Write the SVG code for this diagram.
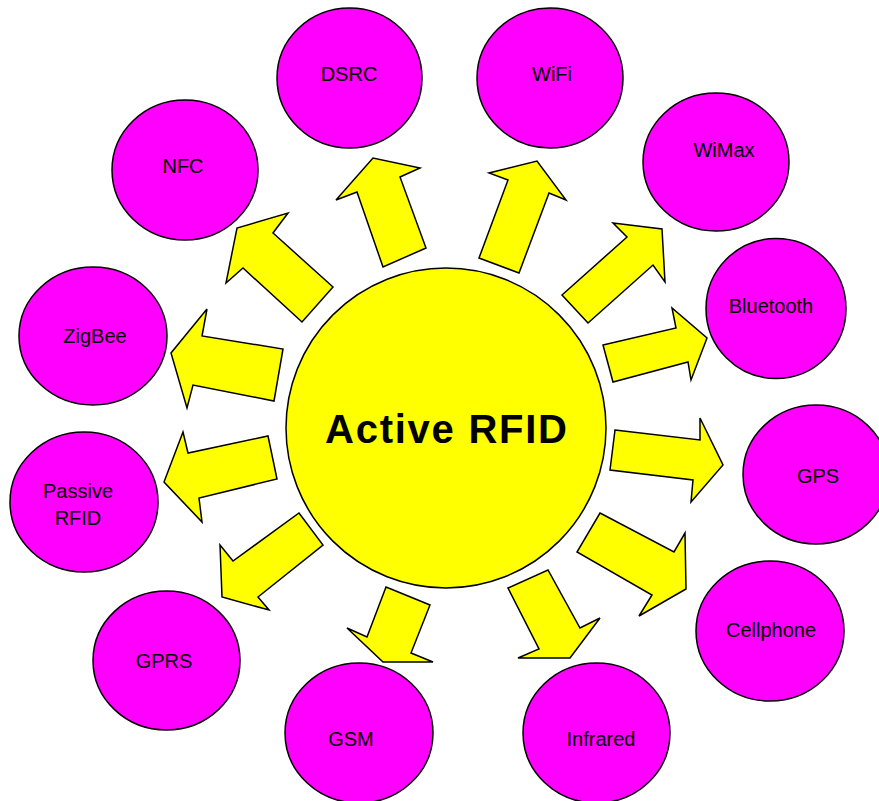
<svg xmlns="http://www.w3.org/2000/svg" width="879" height="801" viewBox="0 0 879 801">
<style>
.arrow{fill:#ffff00;stroke:#000;stroke-width:1.5;stroke-linejoin:miter}
.node{fill:#ff00ff;stroke:#000;stroke-width:1.5}
.lbl{font-family:"Liberation Sans",Arial,sans-serif;font-size:20px;fill:#000;text-anchor:middle}
.center{fill:#ffff00;stroke:#000;stroke-width:1.5}
.title{font-family:"Liberation Sans",Arial,sans-serif;font-size:40px;font-weight:bold;fill:#000;text-anchor:middle}
</style>
<rect width="879" height="801" fill="#fff"/>
<g id="connectors">
<polygon class="arrow" points="383,267 357,192 336,200 373,158 420,168 400,177 426,248"/>
<polygon class="arrow" points="479,258 508,180 489,173 537,161 566,200 549,193 519,273"/>
<polygon class="arrow" points="562,295 627,237 613,223 662,229 665,282 653,265 588,323"/>
<polygon class="arrow" points="603,345 676,328 672,308 707,338 691,380 688,362 613,382"/>
<polygon class="arrow" points="615,430 700,440 700,418 723,465 691,502 693,480 610,470"/>
<polygon class="arrow" points="600,513 674,552 685,533 686,589 639,616 652,595 577,552"/>
<polygon class="arrow" points="508,588 548,570 580,628 600,618 570,658 518,658 539,649"/>
<polygon class="arrow" points="386,587 430,605 411,653 433,662 383,662 347,628 367,637"/>
<polygon class="arrow" points="299,513 323,545 258,597 269,610 222,597 220,545 233,561"/>
<polygon class="arrow" points="268,436 277,479 199,498 202,522 164,482 183,432 188,453"/>
<polygon class="arrow" points="283,349 274,401 193,385 187,408 171,353 207,309 202,336"/>
<polygon class="arrow" points="333,287 302,322 243,268 226,283 237,228 288,213 273,233"/>
</g>
<g id="active-rfid">
<circle class="center" cx="446" cy="428" r="160"/>
<text class="title" x="446" y="443" textLength="242" lengthAdjust="spacing">Active RFID</text>
</g>
<g id="dsrc"><ellipse class="node" cx="349.5" cy="78" rx="72.5" ry="70"/><text class="lbl" x="349" y="81">DSRC</text></g>
<g id="wifi"><ellipse class="node" cx="550" cy="78" rx="73" ry="70"/><text class="lbl" x="552" y="81">WiFi</text></g>
<g id="nfc"><ellipse class="node" cx="185" cy="170" rx="73" ry="70"/><text class="lbl" x="183" y="173">NFC</text></g>
<g id="wimax"><ellipse class="node" cx="716" cy="162" rx="73" ry="69"/><text class="lbl" x="724" y="157">WiMax</text></g>
<g id="bluetooth"><ellipse class="node" cx="776" cy="308.5" rx="70" ry="70"/><text class="lbl" x="771" y="313">Bluetooth</text></g>
<g id="zigbee"><ellipse class="node" cx="93" cy="336" rx="74" ry="69"/><text class="lbl" x="95" y="343">ZigBee</text></g>
<g id="passive-rfid"><ellipse class="node" cx="84" cy="502" rx="74" ry="70"/><text class="lbl" x="78" y="498">Passive</text><text class="lbl" x="78" y="525">RFID</text></g>
<g id="gps"><ellipse class="node" cx="816" cy="474.5" rx="73" ry="69.5"/><text class="lbl" x="818" y="483">GPS</text></g>
<g id="gprs"><ellipse class="node" cx="166.5" cy="660.5" rx="73.5" ry="69.5"/><text class="lbl" x="164" y="668">GPRS</text></g>
<g id="cellphone"><ellipse class="node" cx="770" cy="631" rx="74" ry="70"/><text class="lbl" x="771" y="637">Cellphone</text></g>
<g id="gsm"><ellipse class="node" cx="359" cy="733" rx="74" ry="70"/><text class="lbl" x="351" y="746">GSM</text></g>
<g id="infrared"><ellipse class="node" cx="596.5" cy="733" rx="73.5" ry="70"/><text class="lbl" x="601" y="746">Infrared</text></g>
</svg>
